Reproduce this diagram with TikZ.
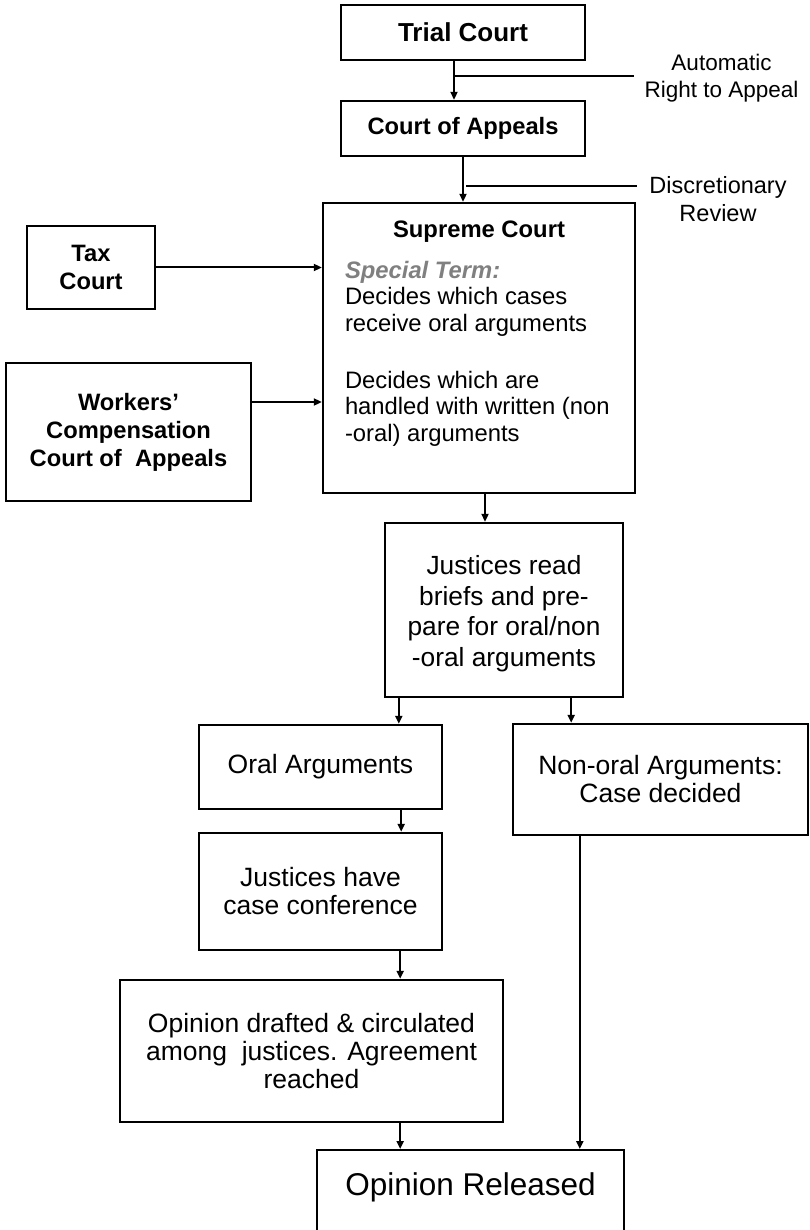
\documentclass[tikz,border=0pt]{standalone}
\usepackage{fontspec}
\setmainfont{Liberation Sans}
\usepackage{xcolor}
\usetikzlibrary{calc,positioning,arrows.meta}
\definecolor{termgray}{RGB}{128,128,128}

\begin{document}
\begin{tikzpicture}[x=1pt,y=-1pt]

\tikzstyle{courtbox} = [draw, line width=2.4pt, rectangle, align=center, inner sep=0pt]
\tikzstyle{bigtext} = [font=\fontsize{26.5}{28}\selectfont]
\tikzstyle{boldtext} = [font=\bfseries\fontsize{23.7}{28}\selectfont]
\tikzstyle{lbl} = [align=center, inner ysep=0pt, font=\fontsize{22.5}{27}\selectfont]
\tikzstyle{flow} = [line width=2pt, -{Triangle[length=8pt,width=7pt]}]
\tikzstyle{tick} = [line width=2pt]

\clip (0,0) rectangle (810,1230);

% upper courts
\node (trial) [courtbox, minimum width=244pt, minimum height=55pt, font=\bfseries\fontsize{26}{30}\selectfont] at (463,32.5) {Trial Court};
\node (appeals) [courtbox, boldtext, minimum width=244pt, minimum height=55pt] at (463,128.5) {Court of Appeals};

\node (supreme) [courtbox, minimum width=312pt, minimum height=290pt, align=left, font=\fontsize{23.8}{26.5}\selectfont] at (479,348) {%
\makebox[268pt]{\bfseries Supreme Court}\\[14.5pt]
{\color{termgray}\bfseries\itshape Special Term:}\\
Decides which cases\\
receive oral arguments\\[30.5pt]
Decides which are\\
handled with written (non\\
-oral) arguments\\[8pt]\mbox{}};

\node (tax) [courtbox, boldtext, minimum width=128pt, minimum height=83pt] at (91,267.5) {Tax\\Court};
\node (workers) [courtbox, boldtext, minimum width=245pt, minimum height=138pt] at (128.5,432) {Workers’\\Compensation\\Court of~ Appeals};

\node (autolbl) [lbl, inner xsep=10pt] at (721.5,78) {Automatic\\Right to Appeal};
\node (disclbl) [lbl, inner xsep=12pt, font=\fontsize{23.5}{28}\selectfont] at (718,199) {Discretionary\\Review};

\draw [flow] ([xshift=-9pt]trial.south) -- ([xshift=-9pt]appeals.north);
\coordinate (autoj) at ($([xshift=-9pt]trial.south)!0.39!([xshift=-9pt]appeals.north)$);
\draw [tick] (autoj) -- (autoj -| autolbl.west);

\draw [flow] (appeals.south) -- (appeals.south |- supreme.north);
\coordinate (discj) at ($(appeals.south)+(3,29)$);
\draw [tick] (discj) -- (discj -| disclbl.west);

\draw [flow] (tax.east) -- (tax.east -| supreme.west);
\draw [flow] ([yshift=30pt]workers.east) -- ([yshift=30pt]workers.east -| supreme.west);

% justices and arguments
\node (read) [courtbox, minimum width=238pt, minimum height=174pt, font=\fontsize{26.3}{30.5}\selectfont] at (504,610) {\rule{0pt}{26pt}Justices read\\briefs and pre-\\pare for oral/non\\-oral arguments};
\draw [flow] ([xshift=6pt]supreme.south) -- ([xshift=6pt]supreme.south |- read.north);

\node (oral) [courtbox, bigtext, minimum width=243pt, minimum height=84pt] at (320.5,767) {Oral Arguments};
\node (nonoral) [courtbox, bigtext, minimum width=295pt, minimum height=111pt] at (660.5,779.5) {Non-oral Arguments:\\Case decided};
\node (conf) [courtbox, bigtext, minimum width=243pt, minimum height=117pt] at (320.5,891.5) {Justices have\\case conference};
\node (drafted) [courtbox, bigtext, minimum width=383pt, minimum height=142pt] at (311.5,1051) {Opinion drafted \& circulated\\among~ justices. Agreement\\reached};
\node (released) [courtbox, anchor=north, minimum width=307pt, inner ysep=22pt, text height=23pt, text depth=80pt, font=\fontsize{31.5}{36}\selectfont] at (470.5,1149) {Opinion Released};

\draw [flow] ([xshift=15pt]read.south west) -- ([xshift=15pt]read.south west |- oral.north);
\draw [flow] ([xshift=-53pt]read.south east) -- ([xshift=-53pt]read.south east |- nonoral.north);
\draw [flow] ([xshift=-42pt]oral.south east) -- ([xshift=-42pt]oral.south east |- conf.north);
\draw [flow] ([xshift=-43pt]conf.south east) -- ([xshift=-43pt]conf.south east |- drafted.north);
\draw [flow] ([xshift=-104pt]drafted.south east) -- ([xshift=-104pt]drafted.south east |- released.north);
\draw [flow] ([xshift=68pt]nonoral.south west) -- ([xshift=68pt]nonoral.south west |- released.north);

\end{tikzpicture}
\end{document}
